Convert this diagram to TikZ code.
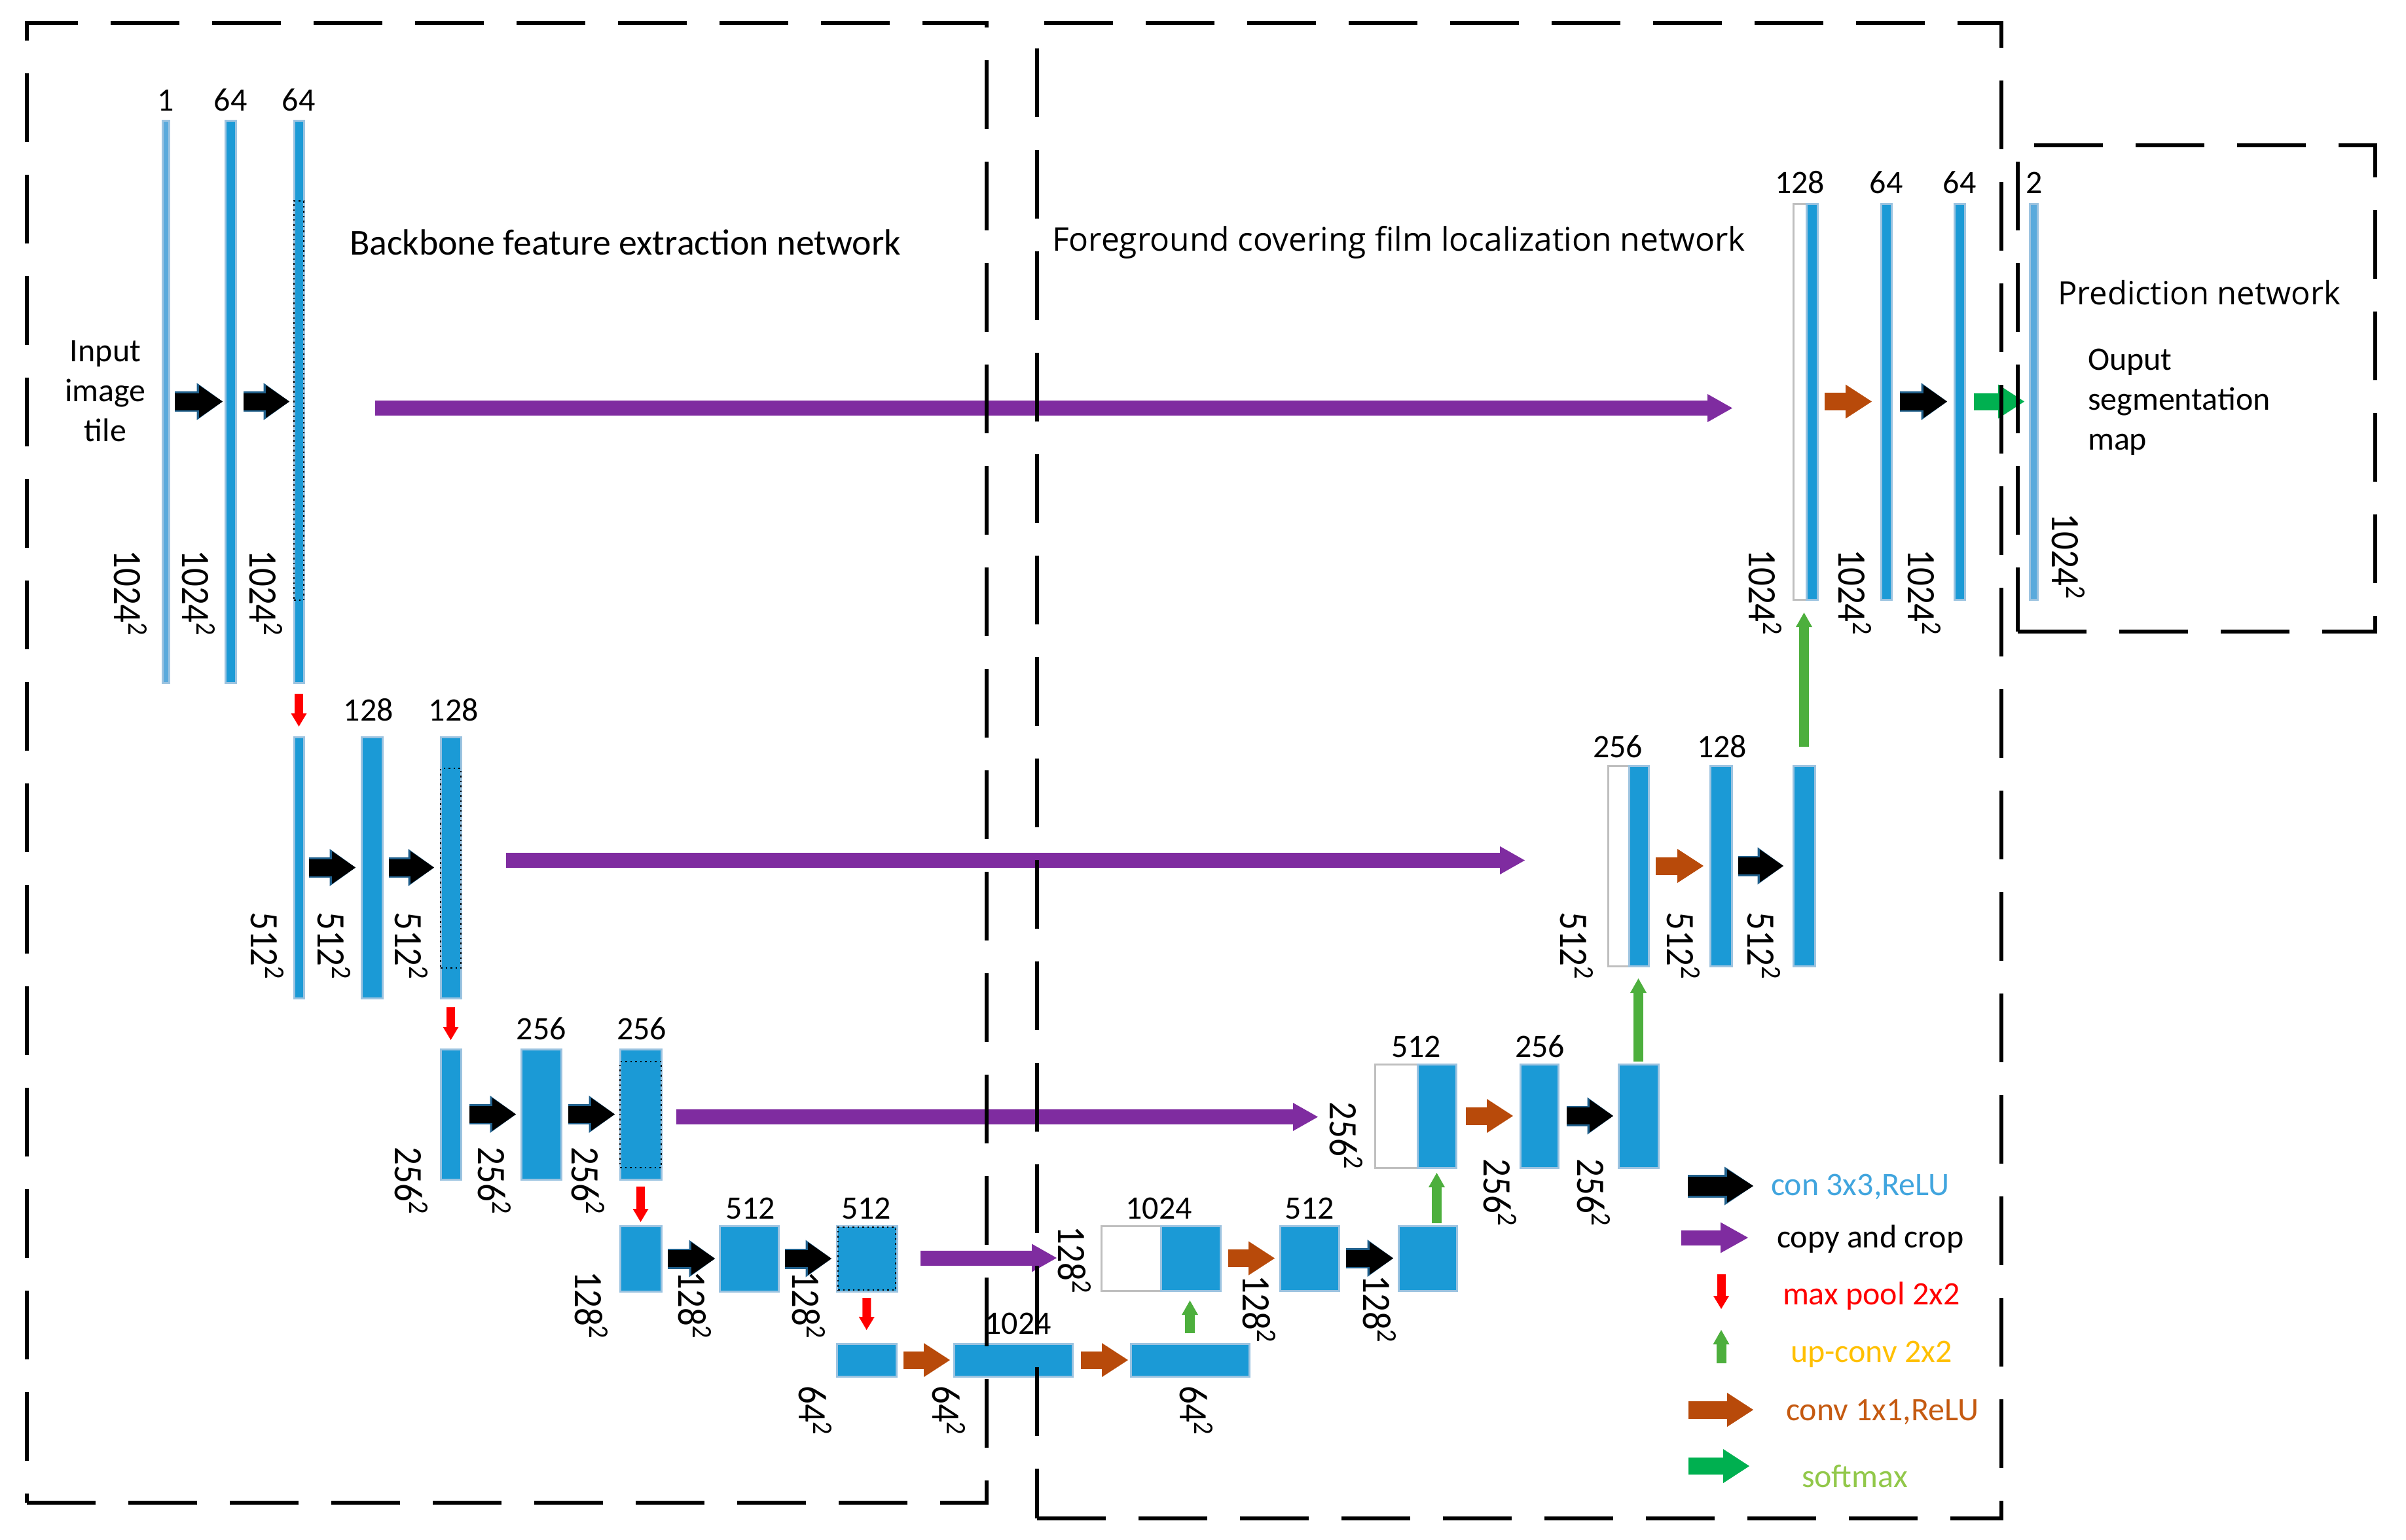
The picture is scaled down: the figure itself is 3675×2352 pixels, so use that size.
\documentclass[tikz,border=0pt]{standalone}
\usepackage{fontspec}
\setmainfont{Carlito}
\newfontfamily\osans{Open Sans}
\usetikzlibrary{arrows.meta,fit,calc}
\definecolor{cbar}{HTML}{1B9AD6}
\definecolor{cbarline}{HTML}{9CC3E0}
\definecolor{clight}{HTML}{5AAADC}
\definecolor{cpurple}{HTML}{7F2CA0}
\definecolor{cbrown}{HTML}{B84A0A}
\definecolor{cupgreen}{HTML}{4DAF3D}
\definecolor{csoft}{HTML}{00B050}
\definecolor{cout}{HTML}{1F5F8B}
\definecolor{tblue}{HTML}{41A5DE}
\definecolor{tgold}{HTML}{FFC000}
\definecolor{tbrown}{HTML}{C55A11}
\definecolor{tgreen}{HTML}{92C84A}
\newcommand\sqlab[1]{\scalebox{1}[1.12]{#1\textsuperscript{2}}}
\tikzset{
 bar/.style={draw=cbarline, line width=0.6pt, fill=cbar, inner sep=0pt, outer sep=0pt},
 lbar/.style={bar, fill=clight},
 wbar/.style={draw=black!25, line width=0.6pt, fill=white, inner sep=0pt, outer sep=0pt},
 dotbox/.style={draw=black, densely dotted, line width=0.5pt, inner sep=0pt},
 num/.style={inner sep=0pt, font=\fontsize{10}{12}\selectfont},
 rnum/.style={inner sep=0pt, rotate=-90, font=\fontsize{11}{13}\selectfont},
 txt/.style={inner sep=0pt, font=\fontsize{10}{12.2}\selectfont},
 convA/.style={line width=5.2pt, draw=black, -{Triangle[length=7.2pt,width=10pt,line width=0pt]},
   preaction={draw=cout, line width=6.2pt, -{Triangle[length=7.9pt,width=11.4pt,line width=0pt]}}},
 convL/.style={line width=5.8pt, draw=black, -{Triangle[length=8pt,width=10.2pt,line width=0pt]},
   preaction={draw=cout, line width=7pt, -{Triangle[length=8.8pt,width=11.8pt,line width=0pt]}}},
 oneA/.style={line width=5.4pt, draw=cbrown, -{Triangle[length=8pt,width=10.4pt,line width=0pt]}},
 softA/.style={line width=5.2pt, draw=csoft, -{Triangle[length=8pt,width=10.4pt,line width=0pt]}},
 copyA/.style={line width=4.6pt, draw=cpurple, -{Triangle[length=7.6pt,width=8.6pt,line width=0pt]}},
 copyL/.style={line width=4.6pt, draw=cpurple, -{Triangle[length=8.4pt,width=9.4pt,line width=0pt]}},
 poolA/.style={line width=2.6pt, draw=red, -{Triangle[length=4pt,width=4.8pt,line width=0pt]}},
 upA/.style={line width=3pt, draw=cupgreen, -{Triangle[length=4.4pt,width=5pt,line width=0pt]}},
 netbox/.style={draw=black, line width=1.2pt, dash pattern=on 21pt off 10pt, inner sep=0pt},
}
\begin{document}
\begin{tikzpicture}[x=0.2pt,y=-0.2pt]
\useasboundingbox (0,0) rectangle (3675,2352);
\fill[white] (0,0) rectangle (3675,2352);

% ---------------- contracting path ----------------
% level 1
\node[lbar, fit={(248,184)(258,1043)}] (b11) {};
\node[bar, fit={(344,184)(360,1043)}] (b12) {};
\node[bar, fit={(449,184)(464,1043)}] (b13) {};
\node[dotbox, fit={(449,307)(464,917)}] (b13d) {};
% level 2
\node[bar, fit={(449,1126)(464,1525)}] (b21) {};
\node[bar, fit={(552,1126)(584,1525)}] (b22) {};
\node[bar, fit={(673,1126)(704,1525)}] (b23) {};
\node[dotbox, fit={(673,1174)(704,1479)}] (b23d) {};
% level 3
\node[bar, fit={(673,1603)(704,1802)}] (b31) {};
\node[bar, fit={(796,1603)(857,1802)}] (b32) {};
\node[bar, fit={(947,1603)(1010,1802)}] (b33) {};
\node[dotbox, fit={(947,1622)(1010,1784)}] (b33d) {};
% level 4
\node[bar, fit={(947,1873)(1010,1973)}] (b41) {};
\node[bar, fit={(1099,1873)(1189,1973)}] (b42) {};
\node[bar, fit={(1278,1873)(1370,1973)}] (b43) {};
\node[dotbox, fit={(1280,1875)(1368,1971)}] (b43d) {};
% level 5
\node[bar, fit={(1278,2053)(1369,2103)}] (b51) {};
\node[bar, fit={(1457,2053)(1638,2103)}] (b52) {};
\node[bar, fit={(1727,2053)(1908,2103)}] (b53) {};

% ---------------- expanding path ----------------
\node[wbar, fit={(1682,1873)(1773,1972)}] (u41w) {};
\node[bar, fit={(1773,1873)(1864,1972)}] (u41) {};
\node[bar, fit={(1955,1873)(2045,1972)}] (u42) {};
\node[bar, fit={(2136,1873)(2225,1972)}] (u43) {};

\node[wbar, fit={(2100,1626)(2165,1784)}] (u31w) {};
\node[bar, fit={(2165,1626)(2224,1784)}] (u31) {};
\node[bar, fit={(2322,1626)(2380,1784)}] (u32) {};
\node[bar, fit={(2472,1626)(2533,1784)}] (u33) {};

\node[wbar, fit={(2456,1170)(2488,1476)}] (u21w) {};
\node[bar, fit={(2488,1170)(2518,1476)}] (u21) {};
\node[bar, fit={(2612,1170)(2645,1476)}] (u22) {};
\node[bar, fit={(2739,1170)(2772,1476)}] (u23) {};

\node[wbar, fit={(2739,311)(2759,916)}] (u11w) {};
\node[bar, fit={(2759,311)(2776,916)}] (u11) {};
\node[bar, fit={(2873,311)(2889,916)}] (u12) {};
\node[bar, fit={(2985,311)(3001,916)}] (u13) {};
\node[lbar, fit={(3100,311)(3112,916)}] (o1) {};

% ---------------- channel labels ----------------
\node[num] (n11) at (253,153) {1};
\node[num] (n12) at (352,153) {64};
\node[num] (n13) at (456,153) {64};
\node[num] (n22) at (563,1085) {128};
\node[num] (n23) at (693,1085) {128};
\node[num] (n32) at (827,1572) {256};
\node[num] (n33) at (980,1572) {256};
\node[num] (n42) at (1146,1846) {512};
\node[num] (n43) at (1323,1846) {512};
\node[num] (n52) at (1555,2022) {1024};
\node[num] (m41) at (1770,1846) {1024};
\node[num] (m42) at (2000,1846) {512};
\node[num] (m31) at (2163,1599) {512};
\node[num] (m32) at (2352,1599) {256};
\node[num] (m21) at (2471,1141) {256};
\node[num] (m22) at (2630,1141) {128};
\node[num] (m11) at (2749,279) {128};
\node[num] (m12) at (2881,279) {64};
\node[num] (m13) at (2993,279) {64};
\node[num] (mo) at (3107,279) {2};

% ---------------- size labels ----------------
\node[rnum] (s11) at (199,907) {\sqlab{1024}};
\node[rnum] (s12) at (303,907) {\sqlab{1024}};
\node[rnum] (s13) at (406,907) {\sqlab{1024}};
\node[rnum] (s21) at (408,1446) {\sqlab{512}};
\node[rnum] (s22) at (510,1446) {\sqlab{512}};
\node[rnum] (s23) at (628,1446) {\sqlab{512}};
\node[rnum] (s31) at (628,1805) {\sqlab{256}};
\node[rnum] (s32) at (755,1805) {\sqlab{256}};
\node[rnum] (s33) at (898,1805) {\sqlab{256}};
\node[rnum] (s41) at (903,1995) {\sqlab{128}};
\node[rnum] (s42) at (1061,1995) {\sqlab{128}};
\node[rnum] (s43) at (1235,1995) {\sqlab{128}};
\node[rnum] (s51) at (1245,2156) {\sqlab{64}};
\node[rnum] (s52) at (1449,2156) {\sqlab{64}};
\node[rnum] (s53) at (1827,2156) {\sqlab{64}};
\node[rnum] (r41) at (1641,1926) {\sqlab{128}};
\node[rnum] (r42) at (1923,2001) {\sqlab{128}};
\node[rnum] (r43) at (2107,2001) {\sqlab{128}};
\node[rnum] (r31) at (2056,1736) {\sqlab{256}};
\node[rnum] (r32) at (2291,1823) {\sqlab{256}};
\node[rnum] (r33) at (2434,1823) {\sqlab{256}};
\node[rnum] (r21) at (2408,1446) {\sqlab{512}};
\node[rnum] (r22) at (2571,1446) {\sqlab{512}};
\node[rnum] (r23) at (2694,1446) {\sqlab{512}};
\node[rnum] (r11) at (2696,906) {\sqlab{1024}};
\node[rnum] (r12) at (2833,906) {\sqlab{1024}};
\node[rnum] (r13) at (2939,906) {\sqlab{1024}};
\node[rnum] (ro) at (3159,851) {\sqlab{1024}};

% ---------------- texts ----------------
\node[txt, align=center] (tIn) at (161,598) {Input\\image\\tile};
\node[anchor=west, inner sep=0pt, font=\fontsize{11}{13}\selectfont] (tBack) at (533,370) {\resizebox{168.4pt}{!}{Backbone feature extraction network}};
\node[anchor=west, inner sep=0pt] (tFore) at (1606,370) {\resizebox{211.8pt}{!}{\osans Foreground covering film localization network}};
\node[anchor=west, inner sep=0pt] (tPred) at (3142,447) {\resizebox{86.4pt}{!}{\osans Prediction network}};
\node[txt, align=left, anchor=west] (tOut) at (3188,614) {Ouput\\segmentation\\map};

% ---------------- conv 3x3 arrows ----------------
\draw[convA, shorten <=1.8pt, shorten >=0.8pt] (b11.east) -- (b12.west);
\draw[convA, shorten <=2.4pt, shorten >=1.4pt] (b12.east) -- (b13.west);
\draw[convA, shorten <=1.6pt, shorten >=1.8pt] (b21.east) -- (b22.west);
\draw[convA, shorten <=2pt, shorten >=2pt] (b22.east) -- (b23.west);
\draw[convA, shorten <=2.6pt, shorten >=1.6pt] (b31.east) -- (b32.west);
\draw[convA, shorten <=2.2pt, shorten >=1.6pt] (b32.east) -- (b33.west);
\draw[convA, shorten <=2pt, shorten >=1.4pt] (b41.east) -- (b42.west);
\draw[convA, shorten <=2pt, shorten >=1.6pt] (b42.east) -- (b43.west);
\draw[convA, shorten <=2.2pt, shorten >=1.6pt] (u42.east) -- (u43.west);
\draw[convA, shorten <=2.6pt, shorten >=1.6pt] (u32.east) -- (u33.west);
\draw[convA, shorten <=2pt, shorten >=3pt] (u22.east) -- (u23.west);
\draw[convA, shorten <=2.6pt, shorten >=2.2pt] (u12.east) -- (u13.west);

% ---------------- conv 1x1 arrows ----------------
\draw[oneA, shorten <=2.2pt, shorten >=1.2pt] (b51.east) -- (b52.west);
\draw[oneA, shorten <=2.6pt, shorten >=0.8pt] (b52.east) -- (b53.west);
\draw[oneA, shorten <=2.4pt, shorten >=1.6pt] (u41.east) -- (u42.west);
\draw[oneA, shorten <=3pt, shorten >=2.2pt] (u31.east) -- (u32.west);
\draw[oneA, shorten <=2.2pt, shorten >=2pt] (u21.east) -- (u22.west);
\draw[oneA, shorten <=2.2pt, shorten >=2.8pt] (u11.east) -- (u12.west);

% ---------------- softmax ----------------
\draw[softA, shorten <=2.8pt, shorten >=1.6pt] (u13.east) -- (o1.west);

% ---------------- max pool ----------------
\draw[poolA, shorten <=3.4pt, shorten >=3.2pt] (b13.south) -- (b21.north);
\draw[poolA, shorten <=2.8pt, shorten >=2.8pt] (b23.south) -- (b31.north);
\draw[poolA, shorten <=2.2pt, shorten >=1.2pt] (b33.south) -- (b41.north);
\draw[poolA, shorten <=2pt, shorten >=4.2pt] (b43.south) -- (b51.north);

% ---------------- up-conv ----------------
\draw[upA, shorten <=3.2pt, shorten >=3pt] (b53.north) -- (b53.north |- u41.south);
\draw[upA, shorten <=0.8pt, shorten >=1.6pt] (u31.south |- u43.north) -- (u31.south);
\draw[upA, shorten <=0.8pt, shorten >=3.8pt] (u33.north) -- (u33.north |- u21.south);
\draw[upA, shorten <=5.8pt, shorten >=4pt] (u23.north) -- (u23.north |- u11.south);

% ---------------- copy and crop ----------------
\coordinate (p1s) at ($(b13.east)+(109,10)$);
\coordinate (p1e) at ($(u11w.west)+(-93,0)$);
\draw[copyA] (p1s) -- (p1e |- p1s);
\coordinate (p2s) at ($(b23.east)+(69,-11)$);
\coordinate (p2e) at ($(u21w.west)+(-127,0)$);
\draw[copyA] (p2s) -- (p2e |- p2s);
\coordinate (p3s) at ($(b33.east)+(23,4)$);
\coordinate (p3e) at ($(u31w.west)+(-87,0)$);
\draw[copyA] (p3s) -- (p3e |- p3s);
\coordinate (p4s) at ($(b43.east)+(36,-1)$);
\coordinate (p4e) at ($(u41w.west)+(-68,0)$);
\draw[copyA] (p4s) -- (p4e |- p4s);

% ---------------- legend ----------------
\coordinate (k1a) at (2578,1812); \coordinate (k1b) at (2678,1812);
\draw[convL] (k1a) -- (k1b);
\node[txt, anchor=west, text=tblue] (k1t) at (2704,1813) {con 3x3,ReLU};
\coordinate (k2a) at (2568,1891); \coordinate (k2b) at (2670,1891);
\draw[copyL] (k2a) -- (k2b);
\node[txt, anchor=west] (k2t) at (2713,1893) {copy and crop};
\coordinate (k3a) at (2629,1947); \coordinate (k3b) at (2629,2000);
\draw[poolA] (k3a) -- (k3b);
\node[txt, anchor=west, text=red] (k3t) at (2722,1980) {max pool 2x2};
\coordinate (k4a) at (2629,2083); \coordinate (k4b) at (2629,2032);
\draw[upA] (k4a) -- (k4b);
\node[txt, anchor=west, text=tgold] (k4t) at (2734,2069) {up-conv 2x2};
\coordinate (k5a) at (2579,2154); \coordinate (k5b) at (2678,2154);
\draw[oneA] (k5a) -- (k5b);
\node[txt, anchor=west, text=tbrown] (k5t) at (2727,2158) {conv 1x1,ReLU};
\coordinate (k6a) at (2579,2240); \coordinate (k6b) at (2672,2240);
\draw[softA] (k6a) -- (k6b);
\node[txt, anchor=west, text=tgreen] (k6t) at (2751,2255) {softmax};

% ---------------- network boxes ----------------
\node[netbox, fit={(41,35)(1507,2296)}] (box1) {};
\node[netbox, fit={(1584,35)(3057,2320)}] (box2) {};
\node[netbox, fit={(3082,222)(3628,965)}] (box3) {};
\end{tikzpicture}
\end{document}
